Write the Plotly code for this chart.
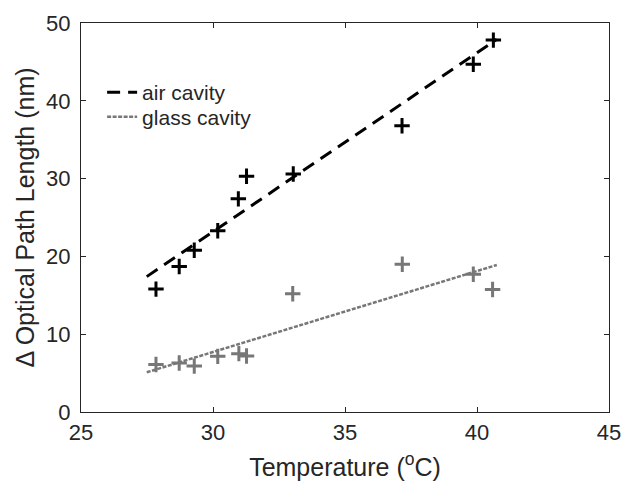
import plotly.graph_objects as go

# Data
air_temp = [27.84, 28.72, 29.29, 30.18, 30.96, 31.27, 33.04, 37.16, 39.86, 40.62]
air_opl = [15.8, 18.7, 20.8, 23.3, 27.4, 30.3, 30.6, 36.8, 44.7, 47.8]
glass_temp = [27.84, 28.72, 29.29, 30.18, 30.98, 31.27, 33.02, 37.17, 39.86, 40.59]
glass_opl = [6.1, 6.3, 5.9, 7.15, 7.5, 7.2, 15.2, 19.0, 17.7, 15.75]

fit_temp = [27.49, 40.75]
air_fit = [17.4, 47.9]
glass_fit = [5.1, 18.9]

xticks = [25, 30, 35, 40, 45]
yticks = [0, 10, 20, 30, 40, 50]

FONT = "Liberation Sans, Arial, Helvetica, sans-serif"
GRAY = "#777777"
TXT = "#262626"

fig = go.Figure()
fig.add_trace(go.Scatter(x=fit_temp, y=air_fit, mode="lines", name="air cavity",
                         legend="legend",
                         line=dict(color="black", width=3, dash="13px,8px")))
fig.add_trace(go.Scatter(x=fit_temp, y=glass_fit, mode="lines", name="glass cavity",
                         legend="legend2",
                         line=dict(color=GRAY, width=2.5, dash="4px,1.5px")))
fig.add_trace(go.Scatter(x=air_temp, y=air_opl, mode="markers", showlegend=False,
                         marker=dict(symbol="cross-thin", size=11, color="black",
                                     line=dict(color="black", width=3))))
fig.add_trace(go.Scatter(x=glass_temp, y=glass_opl, mode="markers", showlegend=False,
                         marker=dict(symbol="cross-thin", size=11, color=GRAY,
                                     line=dict(color=GRAY, width=3))))

axis_common = dict(showgrid=False, zeroline=False, showline=True, linecolor=TXT,
                   linewidth=1.2, mirror="ticks", ticks="inside", ticklen=5,
                   tickcolor=TXT, tickwidth=1.2, ticklabeloverflow="allow",
                   tickfont=dict(family=FONT, size=22, color=TXT))

leg_common = dict(x=0.04, xanchor="left", yanchor="middle",
                  bgcolor="rgba(0,0,0,0)", borderwidth=0,
                  font=dict(family=FONT, size=21, color=TXT))

fig.update_layout(
    width=641, height=489,
    margin=dict(l=81, r=32, t=11, b=77),
    paper_bgcolor="white", plot_bgcolor="white",
    font=dict(family=FONT, color=TXT),
    xaxis=dict(range=[25, 45], tickvals=xticks, ticktext=[str(v) for v in xticks],
               title=dict(text="Temperature (<sup>o</sup>C)", font=dict(family=FONT, size=25, color=TXT),
                          standoff=14),
               **axis_common),
    yaxis=dict(range=[0, 50], tickvals=yticks, ticktext=[str(v) for v in yticks],
               ticklabelstandoff=5,
               title=dict(text="\u0394 Optical Path Length (nm)", font=dict(family=FONT, size=25, color=TXT),
                          standoff=4),
               **axis_common),
    legend=dict(y=0.821, **leg_common),
    legend2=dict(y=0.758, **leg_common),
    showlegend=True,
)

fig.write_html("out.html", config={"displayModeBar": False},
               post_script="document.body.style.margin='0px';")
